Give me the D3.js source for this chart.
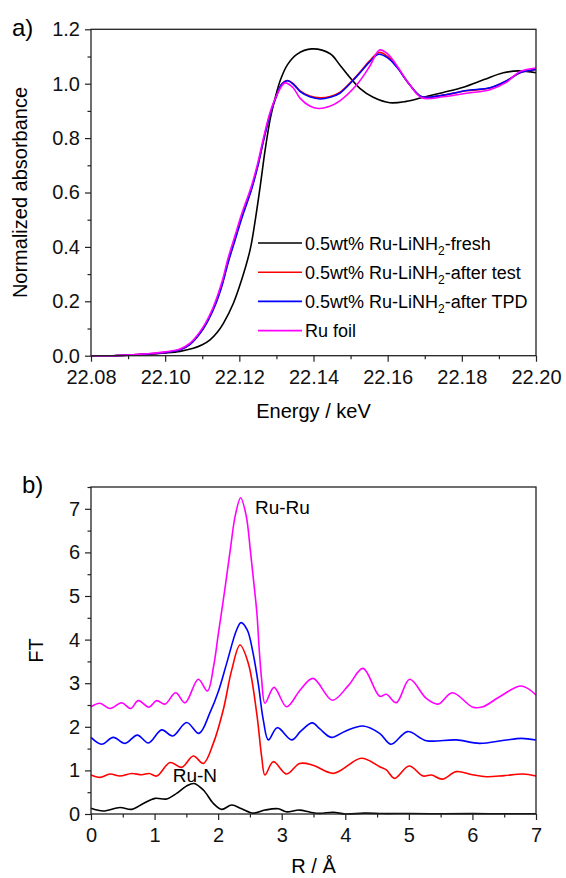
<!DOCTYPE html>
<html>
<head>
<meta charset="utf-8">
<script src="https://cdn.jsdelivr.net/npm/d3@7"></script>
<style>
  html, body { margin: 0; padding: 0; background: #fff; }
  svg { display: block; font-family: "Liberation Sans", Arial, sans-serif; }
</style>
</head>
<body>
<svg id="fig" width="566" height="878"></svg>
<script>
// ---------- panel a) Ru K-edge XANES ----------
const energyTicks = [22.08, 22.10, 22.12, 22.14, 22.16, 22.18, 22.20];
const energyMinor = [22.09, 22.11, 22.13, 22.15, 22.17, 22.19];
const absTicks = [0.0, 0.2, 0.4, 0.6, 0.8, 1.0, 1.2];
const absMinor = [0.1, 0.3, 0.5, 0.7, 0.9, 1.1];

const seriesNames = ["fresh", "after test", "after TPD", "Ru foil"];
const seriesColors = ["#000000", "#ff0000", "#0000ff", "#ff00ff"];

// [energy keV, normalized absorbance]
const xanesFresh = [
  [22.080, 0.000], [22.086, 0.000], [22.090, 0.002], [22.095, 0.005], [22.100, 0.010],
  [22.104, 0.016], [22.1076, 0.027], [22.110, 0.040], [22.1121, 0.058], [22.1140, 0.085],
  [22.1157, 0.119], [22.1184, 0.193], [22.1206, 0.278], [22.1229, 0.389], [22.1242, 0.490],
  [22.1256, 0.620], [22.1270, 0.760], [22.1284, 0.875], [22.1298, 0.955], [22.1312, 1.018],
  [22.1330, 1.070], [22.1355, 1.108], [22.1395, 1.128], [22.1445, 1.110], [22.1471, 1.069],
  [22.1500, 1.020], [22.1525, 0.983], [22.1561, 0.950], [22.1606, 0.930], [22.1650, 0.935],
  [22.1696, 0.950], [22.1750, 0.968], [22.1804, 0.987], [22.1860, 1.015], [22.1912, 1.040],
  [22.1955, 1.047], [22.2000, 1.040]
];
const xanesAfterTest = [
  [22.080, 0.000], [22.086, 0.000], [22.090, 0.002], [22.095, 0.006], [22.100, 0.012],
  [22.104, 0.022], [22.1067, 0.042], [22.1103, 0.100], [22.1130, 0.172], [22.1152, 0.255],
  [22.1170, 0.348], [22.1188, 0.428], [22.1206, 0.508], [22.1233, 0.615], [22.1250, 0.700],
  [22.1265, 0.790], [22.1283, 0.888], [22.1301, 0.958], [22.1314, 0.998], [22.1330, 1.012],
  [22.1348, 0.997], [22.1364, 0.974], [22.1390, 0.955], [22.1418, 0.948], [22.1445, 0.953],
  [22.1471, 0.968], [22.1516, 1.028], [22.1552, 1.085], [22.1577, 1.115], [22.1600, 1.100],
  [22.1624, 1.064], [22.1660, 0.995], [22.1692, 0.952], [22.1750, 0.958], [22.1813, 0.974],
  [22.1876, 0.984], [22.1920, 1.010], [22.1957, 1.040], [22.2000, 1.052]
];
const xanesAfterTPD = [
  [22.080, 0.000], [22.086, 0.000], [22.090, 0.002], [22.095, 0.006], [22.100, 0.012],
  [22.104, 0.022], [22.1067, 0.042], [22.1103, 0.100], [22.1130, 0.170], [22.1152, 0.252],
  [22.1170, 0.343], [22.1188, 0.423], [22.1206, 0.503], [22.1233, 0.612], [22.1250, 0.698],
  [22.1265, 0.790], [22.1283, 0.888], [22.1301, 0.958], [22.1314, 0.998], [22.1330, 1.011],
  [22.1348, 0.995], [22.1364, 0.971], [22.1390, 0.952], [22.1418, 0.944], [22.1445, 0.950],
  [22.1471, 0.965], [22.1516, 1.026], [22.1552, 1.081], [22.1575, 1.108], [22.1600, 1.095],
  [22.1624, 1.062], [22.1660, 0.995], [22.1692, 0.952], [22.1750, 0.958], [22.1813, 0.975],
  [22.1876, 0.985], [22.1920, 1.010], [22.1957, 1.040], [22.2000, 1.052]
];
const xanesFoil = [
  [22.080, 0.000], [22.086, 0.000], [22.090, 0.002], [22.095, 0.007], [22.100, 0.014],
  [22.104, 0.025], [22.1067, 0.046], [22.1103, 0.107], [22.1130, 0.180], [22.1152, 0.266],
  [22.1170, 0.360], [22.1188, 0.440], [22.1206, 0.520], [22.1233, 0.625], [22.1250, 0.710],
  [22.1265, 0.800], [22.1283, 0.895], [22.1301, 0.958], [22.1323, 1.003], [22.1345, 0.985],
  [22.1364, 0.946], [22.1390, 0.918], [22.1413, 0.909], [22.1440, 0.915], [22.1471, 0.937],
  [22.1516, 0.995], [22.1552, 1.065], [22.1578, 1.124], [22.1600, 1.110], [22.1624, 1.068],
  [22.1660, 0.995], [22.1692, 0.948], [22.1750, 0.952], [22.1813, 0.965], [22.1876, 0.978],
  [22.1920, 1.005], [22.1957, 1.045], [22.2000, 1.058]
];

// ---------- panel b) Fourier transformed EXAFS ----------
const rTicks = [0, 1, 2, 3, 4, 5, 6, 7];
const rMinor = [0.5, 1.5, 2.5, 3.5, 4.5, 5.5, 6.5];
const ftTicks = [0, 1, 2, 3, 4, 5, 6, 7];
const ftMinor = [0.5, 1.5, 2.5, 3.5, 4.5, 5.5, 6.5, 7.5];

// [R Å, FT magnitude]
const ftFresh = [
  [0, 0.131], [0.194, 0.069], [0.455, 0.150], [0.64, 0.107], [0.823, 0.240], [1.007, 0.359],
  [1.19, 0.344], [1.347, 0.474], [1.50, 0.640], [1.62, 0.700], [1.767, 0.550], [1.924, 0.245],
  [2.056, 0.107], [2.213, 0.206], [2.37, 0.120], [2.553, 0.020], [2.737, 0.090], [2.947, 0.120],
  [3.07, 0.050], [3.28, 0.090], [3.45, 0.040], [3.60, 0.015], [3.81, 0.040], [4.0, 0.000],
  [4.3, 0.020], [4.6, 0.010], [5.0, 0.012], [5.5, 0.005], [6.0, 0.008], [6.5, 0.005], [7.0, 0.006]
];
const ftAfterTest = [
  [0, 0.894], [0.14, 0.840], [0.30, 0.917], [0.455, 0.870], [0.64, 0.930], [0.797, 0.900],
  [0.917, 0.930], [1.033, 0.870], [1.243, 1.180], [1.426, 1.070], [1.61, 1.330], [1.767, 1.160],
  [1.924, 1.620], [2.08, 2.385], [2.213, 3.300], [2.344, 3.876], [2.474, 3.460], [2.607, 2.310],
  [2.685, 1.310], [2.737, 0.894], [2.868, 1.200], [3.078, 0.917], [3.282, 1.160], [3.493, 1.120],
  [3.818, 0.933], [4.252, 1.277], [4.54, 1.085], [4.646, 1.010], [4.777, 0.818], [5.003, 1.100],
  [5.223, 0.871], [5.354, 0.894], [5.527, 0.800], [5.745, 0.971], [6.0, 0.900], [6.218, 0.856],
  [6.5, 0.880], [6.795, 0.917], [7.0, 0.871]
];
const ftAfterTPD = [
  [0, 1.757], [0.168, 1.600], [0.35, 1.757], [0.535, 1.620], [0.729, 1.810], [0.902, 1.630],
  [1.112, 1.930], [1.285, 1.790], [1.505, 2.100], [1.699, 1.850], [1.873, 2.330], [2.003, 2.810],
  [2.135, 3.460], [2.29, 4.220], [2.36, 4.390], [2.459, 4.220], [2.54, 3.760], [2.63, 3.000],
  [2.71, 2.160], [2.79, 1.700], [2.93, 1.980], [3.157, 1.700], [3.30, 1.900], [3.482, 2.090],
  [3.60, 1.950], [3.781, 1.757], [4.0, 1.900], [4.278, 2.018], [4.54, 1.850], [4.72, 1.600],
  [4.98, 1.890], [5.275, 1.682], [5.745, 1.700], [6.11, 1.620], [6.5, 1.690], [6.769, 1.735],
  [7.0, 1.697]
];
const ftFoil = [
  [0, 2.46], [0.14, 2.54], [0.30, 2.42], [0.482, 2.55], [0.624, 2.42], [0.744, 2.60],
  [0.912, 2.45], [1.033, 2.60], [1.164, 2.52], [1.332, 2.78], [1.479, 2.55], [1.688, 3.09],
  [1.83, 2.82], [1.93, 3.40], [2.00, 4.10], [2.10, 5.10], [2.19, 6.05], [2.27, 6.85],
  [2.354, 7.255], [2.44, 6.85], [2.51, 6.00], [2.565, 5.25], [2.61, 4.60], [2.645, 3.80],
  [2.685, 3.07], [2.737, 2.54], [2.879, 2.905], [3.078, 2.46], [3.288, 2.84], [3.493, 3.11],
  [3.797, 2.61], [4.05, 2.95], [4.278, 3.34], [4.541, 2.70], [4.646, 2.746], [4.803, 2.554],
  [5.013, 3.09], [5.275, 2.65], [5.459, 2.52], [5.684, 2.78], [6.01, 2.446], [6.166, 2.46],
  [6.428, 2.69], [6.769, 2.935], [7.0, 2.73]
];

const peakLabels = [
  { text: "Ru-Ru", r: 2.58, ft: 6.88 },
  { text: "Ru-N", r: 1.285, ft: 0.74 }
];

// ---------- drawing ----------
const svg = d3.select("#fig");
const FONT = 20;
const axisColor = "#222";

function drawFrame(g, x, y, xMajor, xMinor, yMajor, yMinor, xFmt, yFmt) {
  const [x0, x1] = x.range();
  const [y0, y1] = y.range();

  // minor ticks
  g.append("g").attr("transform", `translate(0,${y0})`)
    .call(d3.axisBottom(x).tickValues(xMinor).tickSize(3.5).tickFormat("").tickSizeOuter(0))
    .call(a => a.select(".domain").remove());
  g.append("g").attr("transform", `translate(${x0},0)`)
    .call(d3.axisLeft(y).tickValues(yMinor).tickSize(3.5).tickFormat("").tickSizeOuter(0))
    .call(a => a.select(".domain").remove());

  // major ticks with labels
  const xa = g.append("g").attr("transform", `translate(0,${y0})`)
    .call(d3.axisBottom(x).tickValues(xMajor).tickSize(6).tickPadding(8).tickFormat(xFmt).tickSizeOuter(0));
  xa.select(".domain").remove();
  xa.selectAll("text").attr("font-size", FONT).attr("fill", "#111").attr("font-family", "Liberation Sans, Arial, sans-serif");

  const ya = g.append("g").attr("transform", `translate(${x0},0)`)
    .call(d3.axisLeft(y).tickValues(yMajor).tickSize(6).tickPadding(5).tickFormat(yFmt).tickSizeOuter(0));
  ya.select(".domain").remove();
  ya.selectAll("text").attr("font-size", FONT).attr("fill", "#111").attr("font-family", "Liberation Sans, Arial, sans-serif");

  g.selectAll(".tick line").attr("stroke", axisColor).attr("stroke-width", 1.2);

  // box
  g.append("rect")
    .attr("x", x0).attr("y", y1)
    .attr("width", x1 - x0).attr("height", y0 - y1)
    .attr("fill", "none").attr("stroke", axisColor).attr("stroke-width", 1.3);
}

function drawLines(g, x, y, series) {
  const line = d3.line()
    .x(d => x(d[0])).y(d => y(d[1]))
    .curve(d3.curveCatmullRom.alpha(0.5));
  series.forEach((s, i) => {
    g.append("path")
      .datum(s)
      .attr("d", line)
      .attr("fill", "none")
      .attr("stroke", seriesColors[i])
      .attr("stroke-width", 1.6)
      .attr("stroke-linejoin", "round");
  });
}

// panel a
const xA = d3.scaleLinear().domain([22.08, 22.20]).range([91, 536]);
const yA = d3.scaleLinear().domain([0, 1.2]).range([355.7, 29.3]);
const gA = svg.append("g");
drawLines(gA, xA, yA, [xanesFresh, xanesAfterTest, xanesAfterTPD, xanesFoil]);
drawFrame(gA, xA, yA, energyTicks, energyMinor, absTicks, absMinor, d3.format(".2f"), d3.format(".1f"));

gA.append("text").attr("x", 12).attr("y", 36).attr("font-size", 24).text("a)");
gA.append("text")
  .attr("x", (xA.range()[0] + xA.range()[1]) / 2).attr("y", 418)
  .attr("text-anchor", "middle").attr("font-size", FONT).text("Energy / keV");
gA.append("text")
  .attr("transform", `translate(27,${(yA.range()[0] + yA.range()[1]) / 2}) rotate(-90)`)
  .attr("text-anchor", "middle").attr("font-size", FONT).text("Normalized absorbance");

// legend
const legend = gA.append("g").attr("transform", "translate(258,243)");
seriesNames.forEach((name, i) => {
  const row = legend.append("g").attr("transform", `translate(0,${i * 29.2})`);
  row.append("line").attr("x1", 0).attr("x2", 44).attr("y1", 0).attr("y2", 0)
    .attr("stroke", seriesColors[i]).attr("stroke-width", 1.6);
  const t = row.append("text").attr("x", 47).attr("y", 6.5).attr("font-size", 18);
  if (name === "Ru foil") {
    t.text("Ru foil");
  } else {
    t.append("tspan").text("0.5wt% Ru-LiNH");
    t.append("tspan").attr("font-size", 12).attr("dy", 5).text("2");
    t.append("tspan").attr("dy", -5).text("-" + name);
  }
});

// panel b
const xB = d3.scaleLinear().domain([0, 7]).range([91, 536]);
const yB = d3.scaleLinear().domain([0, 7.5]).range([814, 487]);
const gB = svg.append("g");
drawLines(gB, xB, yB, [ftFresh, ftAfterTest, ftAfterTPD, ftFoil]);
drawFrame(gB, xB, yB, rTicks, rMinor, ftTicks, ftMinor, d3.format("d"), d3.format("d"));

gB.append("text").attr("x", 22).attr("y", 493).attr("font-size", 24).text("b)");
gB.append("text")
  .attr("x", (xB.range()[0] + xB.range()[1]) / 2).attr("y", 873)
  .attr("text-anchor", "middle").attr("font-size", FONT).text("R / Å");
gB.append("text")
  .attr("transform", `translate(43,${(yB.range()[0] + yB.range()[1]) / 2}) rotate(-90)`)
  .attr("text-anchor", "middle").attr("font-size", FONT).text("FT");

peakLabels.forEach(p => {
  gB.append("text").attr("x", xB(p.r)).attr("y", yB(p.ft))
    .attr("font-size", 19).text(p.text);
});
</script>
</body>
</html>
